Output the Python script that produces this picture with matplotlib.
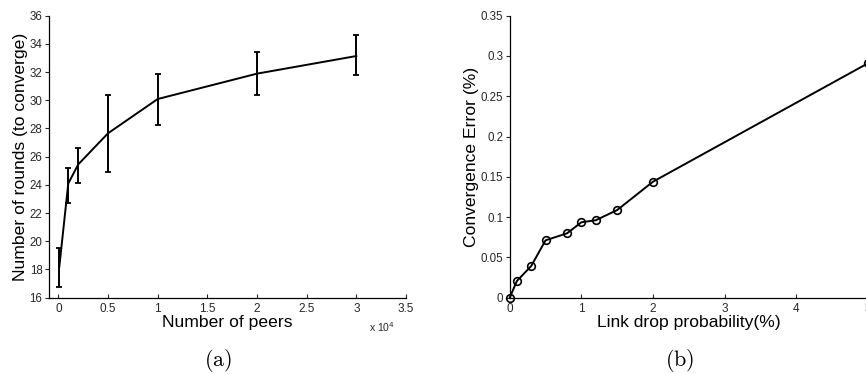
import matplotlib
matplotlib.use("Agg")
import matplotlib.pyplot as plt
import numpy as np

plt.rcParams['font.family'] = ['Liberation Sans', 'DejaVu Sans']
plt.rcParams['mathtext.fontset'] = 'cm'

# Panel (a)
peers = [100, 1000, 2000, 5000, 10000, 20000, 30000]
rounds = [18.2, 24.1, 25.45, 27.66, 30.09, 31.89, 33.14]
rounds_low = [16.78, 22.69, 24.11, 24.94, 28.27, 30.35, 31.77]
rounds_high = [19.55, 25.22, 26.64, 30.38, 31.87, 33.4, 34.61]

# Panel (b)
drop_prob = [0, 0.1, 0.3, 0.5, 0.8, 1.0, 1.2, 1.5, 2.0, 5.0]
conv_error = [0, 0.0207, 0.0393, 0.0712, 0.0799, 0.0936, 0.0961, 0.1088, 0.144, 0.291]

W, H = 866, 374
fig = plt.figure(figsize=(W/100, H/100), dpi=100)

def frac(x0, y0, x1, y1):
    return [x0/W, 1 - y1/H, (x1-x0)/W, (y1-y0)/H]

tickcol = '#262626'
ax1 = fig.add_axes(frac(48.7, 15.7, 406, 297.7))
ax2 = fig.add_axes(frac(509.7, 15.7, 868, 297.7))

for ax in (ax1, ax2):
    ax.spines['top'].set_visible(False)
    ax.spines['right'].set_visible(False)
    for s in ('left', 'bottom'):
        ax.spines[s].set_linewidth(0.9)
    ax.tick_params(axis='y', direction='out', length=3, width=0.8, labelsize=8.3, colors=tickcol, pad=1.5)
    ax.tick_params(axis='x', direction='in', length=3, width=0.8, labelsize=8.5, colors=tickcol, pad=3.5)
    ax.set_facecolor('white')

# (a)
px = np.array(peers) / 1e4
r = np.array(rounds)
yerr = [r - np.array(rounds_low), np.array(rounds_high) - r]
ax1.errorbar(px, r, yerr=yerr, color='black', lw=1.4, capsize=2.4, capthick=1.3, elinewidth=1.4)
ax1.set_xlim(-0.097, 3.5)
ax1.set_ylim(16, 36)
ax1.set_xticks(np.arange(0, 3.51, 0.5))
ax1.set_xticklabels(['0', '0.5', '1', '1.5', '2', '2.5', '3', '3.5'])
ax1.set_yticks(np.arange(16, 36.1, 2))
ax1.set_xlabel('Number of peers', fontsize=12.6, labelpad=0)
ax1.set_ylabel('Number of rounds (to converge)', fontsize=12.6, labelpad=1)
fig.text(381.7/W, 1 - 326.7/H, r'x 10$^{4}$', fontsize=7.5, ha='center', va='center',
         color=tickcol, math_fontfamily='dejavusans')

# (b)
ax2.plot(drop_prob, conv_error, color='black', lw=1.4, marker='o', markersize=5.5,
         markerfacecolor='none', markeredgewidth=1.2, clip_on=False)
ax2.set_xlim(0, 5)
ax2.set_ylim(0, 0.35)
ax2.set_xticks(range(0, 6))
ax2.set_yticks(np.arange(0, 0.351, 0.05))
ax2.set_yticklabels(['0', '0.05', '0.1', '0.15', '0.2', '0.25', '0.3', '0.35'])
ax2.set_xlabel('Link drop probability(%)', fontsize=12.6, labelpad=0)
ax2.set_ylabel('Convergence Error (%)', fontsize=12.6, labelpad=1.5)

fig.text(218/W, 1 - 360/H, r'$\mathrm{(a)}$', fontsize=16, ha='center', va='center')
fig.text(679.7/W, 1 - 360/H, r'$\mathrm{(b)}$', fontsize=16, ha='center', va='center')

fig.savefig('out.png', dpi=100, facecolor='white')
